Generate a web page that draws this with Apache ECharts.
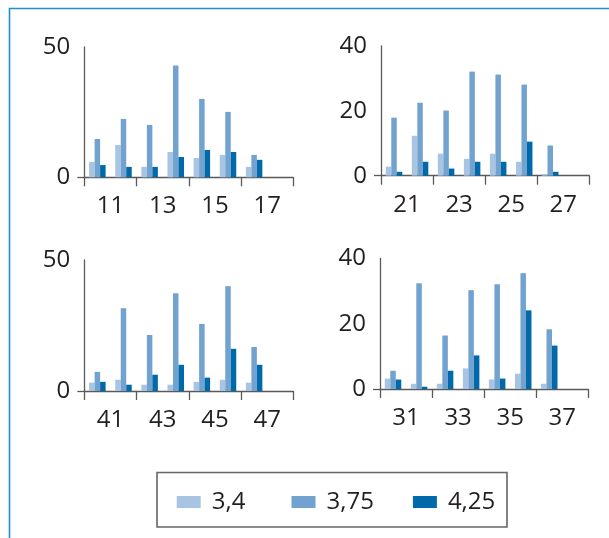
<!DOCTYPE html>
<html>
<head>
<meta charset="utf-8">
<script src="https://cdn.jsdelivr.net/npm/echarts@6/dist/echarts.min.js"></script>
<style>
html,body{margin:0;padding:0;background:#fff;}
#chart{width:609px;height:538px;}
</style>
</head>
<body>
<div id="chart"></div>
<script>
// ---- data ----
const seriesNames = ['3,4', '3,75', '4,25'];

const catsA = ['10-11','11-12','12-13','13-14','14-15','15-16','16-17','17-18'];
const ticksA = [11, 13, 15, 17];
const a34  = [5.9, 12.4, 4.0, 9.7, 7.4, 8.6, 4.0];
const a375 = [14.7, 22.4, 20.1, 42.9, 30.1, 25.1, 8.6];
const a425 = [4.7, 4.0, 4.0, 7.8, 10.5, 9.7, 6.7];

const catsB = ['20-21','21-22','22-23','23-24','24-25','25-26','26-27','27-28'];
const ticksB = [21, 23, 25, 27];
const b34  = [2.8, 12.3, 6.8, 5.2, 6.8, 4.3, 0.5];
const b375 = [17.9, 22.5, 20.1, 32.1, 31.2, 28.1, 9.3];
const b425 = [1.2, 4.3, 2.2, 4.3, 4.3, 10.5, 1.2];

const catsC = ['40-41','41-42','42-43','43-44','44-45','45-46','46-47','47-48'];
const ticksC = [41, 43, 45, 47];
const c34  = [3.2, 4.3, 2.4, 2.4, 3.5, 4.3, 3.2];
const c375 = [7.3, 31.6, 21.4, 37.3, 25.6, 40.0, 16.8];
const c425 = [3.5, 2.4, 6.2, 10.0, 5.1, 16.1, 10.0];

const catsD = ['30-31','31-32','32-33','33-34','34-35','35-36','36-37','37-38'];
const ticksD = [31, 33, 35, 37];
const d34  = [3.2, 1.6, 1.6, 6.3, 2.9, 4.7, 1.6];
const d375 = [5.6, 32.4, 16.4, 30.3, 32.1, 35.5, 18.3];
const d425 = [2.9, 0.7, 5.6, 10.3, 3.2, 24.1, 13.3];

const yMaxA = 50, yStepA = 50;
const yMaxB = 40, yStepB = 20;
const yMaxC = 50, yStepC = 50;
const yMaxD = 40, yStepD = 20;

// ---- styling / layout ----
const colors = ['#a7c4e3', '#72a3d0', '#0069aa'];
const FONT = "'Open Sans', 'Noto Sans', sans-serif";
const TXT = '#231f20';
const AXIS = '#5a5a5a';
const FS = 24;

const panels = [
  {cats: catsA, ticks: ticksA, vals: [a34, a375, a425], yMax: yMaxA, yStep: yStepA,
   grid: {left: 84.3, top: 47, width: 209, height: 130.3}},
  {cats: catsB, ticks: ticksB, vals: [b34, b375, b425], yMax: yMaxB, yStep: yStepB,
   grid: {left: 381, top: 46, width: 208.3, height: 129.7}},
  {cats: catsC, ticks: ticksC, vals: [c34, c375, c425], yMax: yMaxC, yStep: yStepC,
   grid: {left: 84.3, top: 260, width: 209, height: 131}},
  {cats: catsD, ticks: ticksD, vals: [d34, d375, d425], yMax: yMaxD, yStep: yStepD,
   grid: {left: 380, top: 258.5, width: 208.3, height: 130.5}}
];

const grid = [], xAxis = [], yAxis = [], series = [];
panels.forEach((p, i) => {
  grid.push(Object.assign({containLabel: false}, p.grid));
  const lo = parseInt(p.cats[0].split('-')[0], 10);
  const hi = parseInt(p.cats[p.cats.length - 1].split('-')[1], 10);
  // category axis carrying the bars and boundary ticks
  xAxis.push({
    type: 'category', gridIndex: i, data: p.cats, position: 'bottom',
    boundaryGap: true,
    axisLine: {show: true, lineStyle: {color: AXIS, width: 1.3}},
    axisTick: {show: true, length: 9, inside: false, lineStyle: {color: AXIS, width: 1.3}},
    axisLabel: {show: false},
    splitLine: {show: false}
  });
  // value axis carrying the boundary labels
  xAxis.push({
    type: 'value', gridIndex: i, min: lo, max: hi, interval: 1, position: 'bottom',
    axisLine: {show: false}, axisTick: {show: false}, splitLine: {show: false},
    axisLabel: {
      show: true, margin: 17, color: TXT, fontFamily: FONT, fontSize: FS,
      formatter: v => (p.ticks.indexOf(v) >= 0 ? String(v) : '')
    }
  });
  yAxis.push({
    type: 'value', gridIndex: i, min: 0, max: p.yMax, interval: p.yStep,
    axisLine: {show: true, lineStyle: {color: AXIS, width: 1.3}},
    axisTick: {show: true, length: 7, customValues: [0], lineStyle: {color: AXIS, width: 1.3}},
    splitLine: {show: false},
    axisLabel: {margin: 14, color: TXT, fontFamily: FONT, fontSize: FS}
  });
  p.vals.forEach((vals, k) => {
    series.push({
      name: seriesNames[k], type: 'bar', xAxisIndex: 2 * i, yAxisIndex: i,
      data: vals, barWidth: 5.5, barGap: '0%',
      itemStyle: {color: colors[k]}, silent: true, animation: false
    });
  });
});

const legendPos = [171.7, 286.5, 407.9];
const legend = seriesNames.map((n, k) => ({
  data: [n], left: legendPos[k], top: 485, orient: 'horizontal',
  itemWidth: 24, itemHeight: 12, icon: 'rect', selectedMode: false,
  textStyle: {color: TXT, fontFamily: FONT, fontSize: FS, padding: [0, 0, 0, 6]}
}));

const chart = echarts.init(document.getElementById('chart'), null, {renderer: 'canvas'});
chart.setOption({
  animation: false,
  color: colors,
  grid, xAxis, yAxis, series, legend,
  graphic: [
    {type: 'polyline', shape: {points: [[609, 8.5], [9.5, 8.5], [9.5, 538]]},
     style: {stroke: '#1f8fcf', lineWidth: 1.6, fill: null}, silent: true},
    {type: 'rect', shape: {x: 157, y: 472.5, width: 350, height: 54.5},
     style: {stroke: '#666666', lineWidth: 1.6, fill: null}, silent: true}
  ]
});
</script>
</body>
</html>
